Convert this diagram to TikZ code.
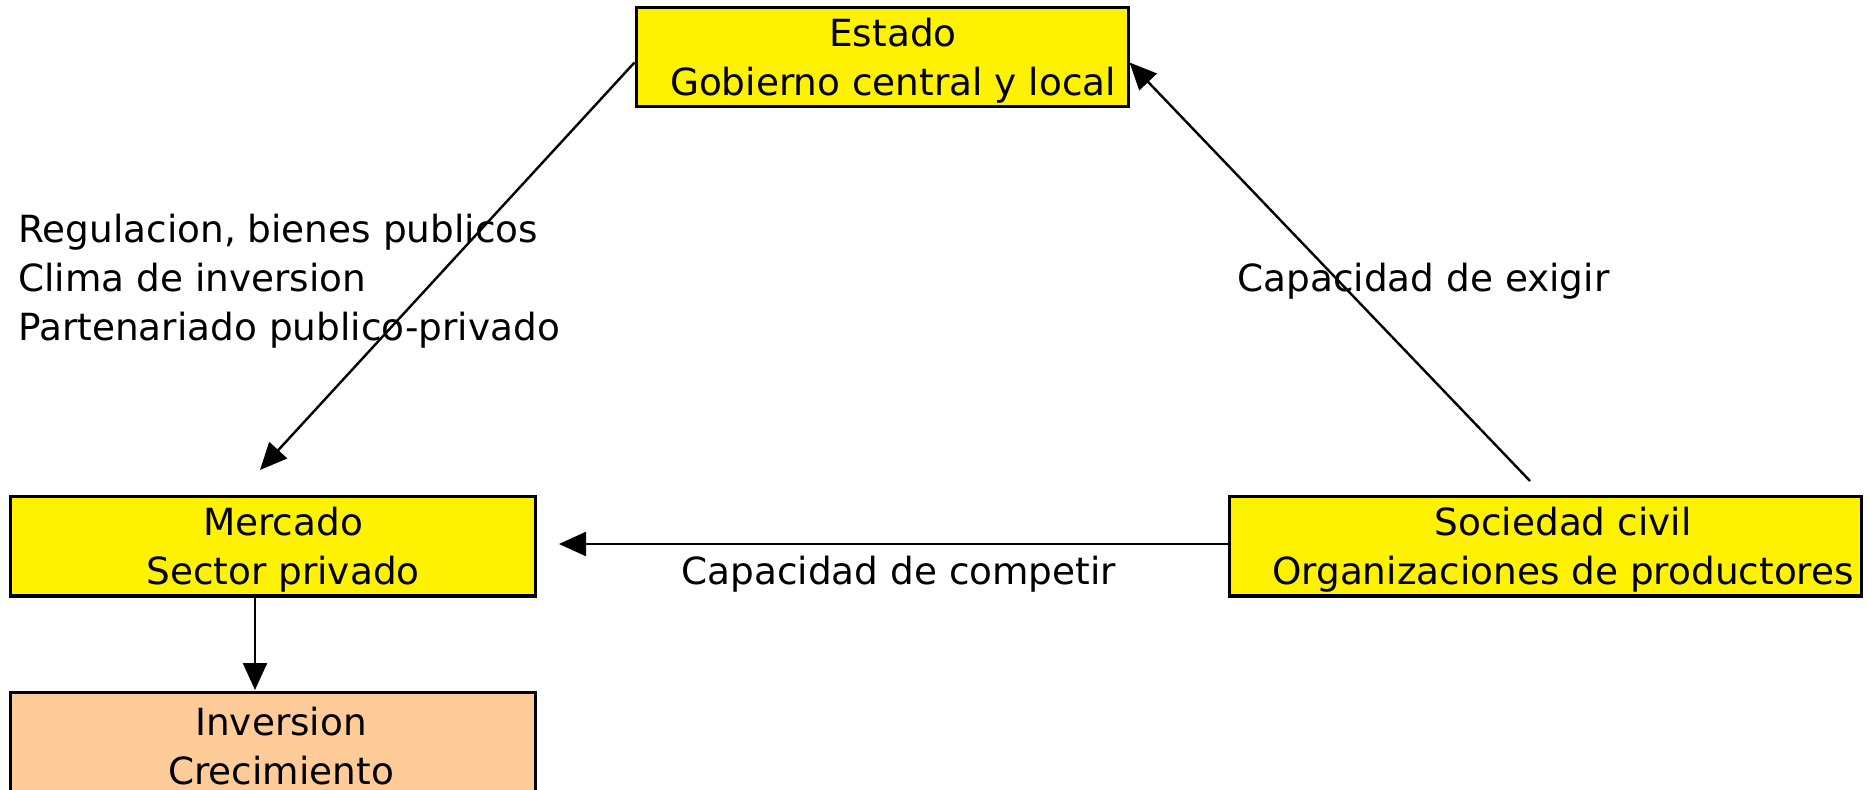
\documentclass[tikz,border=0pt]{standalone}
\usepackage{fontspec}
\setmainfont{DejaVu Sans}
\usetikzlibrary{arrows.meta}
\definecolor{boxyellow}{RGB}{255,242,0}
\definecolor{boxpeach}{RGB}{255,204,153}
\tikzset{
  boxnode/.style={draw=black, line width=1.5pt, inner sep=0pt},
  txt/.style={font=\fontsize{18.7pt}{24.5pt}\selectfont, inner sep=0pt, align=center},
  lbl/.style={font=\fontsize{18.7pt}{24.5pt}\selectfont, inner sep=0pt, align=left, anchor=west},
  arr/.style={line width=1.2pt, -{Triangle[length=13.5pt,width=12pt]}}
}
\begin{document}
\begin{tikzpicture}[x=0.5pt,y=-0.5pt]
\useasboundingbox (0,0) rectangle (1868,790);
% boxes
\node[boxnode, fill=boxyellow, minimum width=246pt, minimum height=49.5pt] (estado) at (882,57.5) {};
\node[boxnode, fill=boxyellow, minimum width=262.5pt, minimum height=49.5pt] (mercado) at (272.5,546.5) {};
\node[boxnode, fill=boxyellow, minimum width=316pt, minimum height=49.5pt] (sociedad) at (1545,546.5) {};
\node[boxnode, fill=boxpeach, minimum width=262.5pt, minimum height=55pt] (inversion) at (272.5,747) {};
% box texts
\node[txt] (estadoT) at (893,61) {Estado\\Gobierno central y local};
\node[txt] (mercadoT) at (283,550) {Mercado\\Sector privado};
\node[txt] (sociedadT) at (1563,550) {Sociedad civil\\Organizaciones de productores};
\node[txt] (inversionT) at (281,746) {Inversion\\Crecimiento};
% connector ends
\coordinate (a1) at (260,470);
\coordinate (s1) at (1530,481);
\coordinate (c1) at (559,544);
\coordinate (i1) at (255,690);
% connectors
\draw[arr] ([yshift=-2.5pt]estado.west) -- (a1);
\draw[arr] (s1) -- ([yshift=-2.5pt]estado.east);
\draw[arr] (sociedad.west |- c1) -- (c1);
\draw[arr] (mercado.south -| i1) -- (i1);
% labels
\node[lbl] (regT) at (18,281) {Regulacion, bienes publicos\\Clima de inversion\\Partenariado publico-privado};
\node[lbl] (exigT) at (1237,281) {Capacidad de exigir};
\node[lbl] (compT) at (681,574) {Capacidad de competir};
\end{tikzpicture}
\end{document}
